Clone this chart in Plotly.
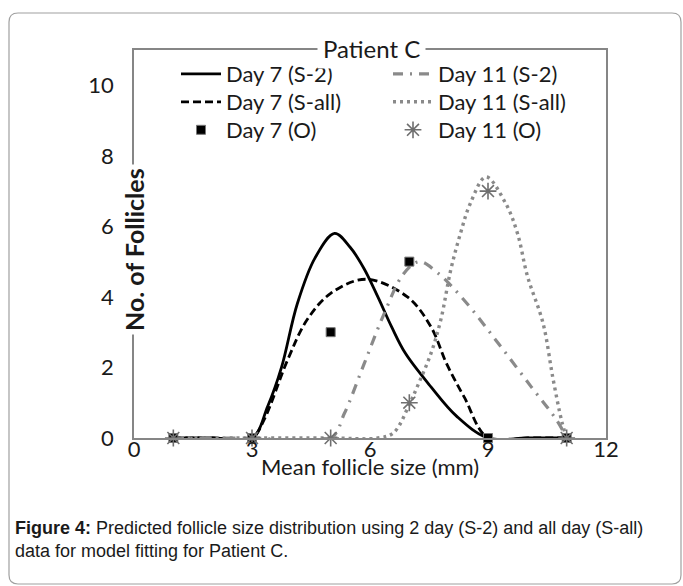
import plotly.graph_objects as go

# ---------------- data ----------------
obs_x = [1, 3, 5, 7, 9, 11]
day7_obs = [0, 0, 3, 5, 0, 0]
day11_obs = [0, 0, 0, 1, 7, 0]

d7_s2_x = [1, 2, 3, 3.4, 3.75, 4.15, 4.6, 5.1, 5.5, 5.85, 6.2, 6.55, 6.9, 7.55, 8.2, 9, 10, 11]
d7_s2_y = [0, 0, 0, 0.9, 2.0, 3.8, 5.1, 5.8, 5.4, 4.8, 4.0, 3.15, 2.4, 1.45, 0.62, 0, 0, 0]

d7_sall_x = [1, 2, 3, 3.3, 3.9, 4.4, 5.0, 5.9, 6.95, 7.55, 7.95, 8.4, 9, 10, 11]
d7_sall_y = [0, 0, 0, 0.5, 2.2, 3.35, 4.1, 4.5, 4.0, 3.15, 2.1, 1.15, 0, 0, 0]

d11_s2_x = [1, 3, 5, 5.35, 5.85, 6.35, 6.85, 7.25, 7.7, 8.4, 9.25, 10.1, 10.75, 11]
d11_s2_y = [0, 0, 0, 0.7, 2.1, 3.5, 4.65, 5.0, 4.7, 3.9, 2.7, 1.45, 0.5, 0]

d11_sall_x = [1, 3, 5, 6.2, 6.6, 7.0, 7.2, 7.55, 7.8, 8.05, 8.3, 8.55, 8.95, 9.45, 9.75, 10.0, 10.4, 10.65, 10.88, 11]
d11_sall_y = [0, 0, 0, 0, 0.15, 0.95, 1.45, 2.4, 3.35, 4.75, 5.8, 6.65, 7.4, 6.65, 5.8, 4.6, 3.25, 1.7, 0.45, 0]

x_ticks = [0, 3, 6, 9, 12]
y_ticks = [0, 2, 4, 6, 8, 10]

# ---------------- styling ----------------
FONT = "Lato"
GREY = "#868686"
CURVE_GREY = "#8a8a8a"
MARK_GREY = "#6f6f6f"
W, H = 683, 586
L, R, T, B = 134, 77, 50, 148
PW, PH = W - L - R, H - T - B


def px(xp):
    return (xp - L) / PW


def py(yp):
    return (H - B - yp) / PH


fig = go.Figure()

fig.add_trace(go.Scatter(x=d7_s2_x, y=d7_s2_y, mode="lines", name="Day 7 (S-2)",
                         line=dict(color="black", width=2.8, shape="spline", smoothing=1.0),
                         legend="legend"))
fig.add_trace(go.Scatter(x=d7_sall_x, y=d7_sall_y, mode="lines", name="Day 7 (S-all)",
                         line=dict(color="black", width=2.8, dash="8px,4px", shape="spline", smoothing=1.0),
                         legend="legend2"))
fig.add_trace(go.Scatter(x=d11_s2_x, y=d11_s2_y, mode="lines", name="Day 11 (S-2)",
                         line=dict(color=CURVE_GREY, width=3.2, dash="10px,7px,2px,7px", shape="spline", smoothing=1.0),
                         legend="legend4"))
fig.add_trace(go.Scatter(x=d11_sall_x, y=d11_sall_y, mode="lines", name="Day 11 (S-all)",
                         line=dict(color=CURVE_GREY, width=3.4, dash="3px,4px", shape="spline", smoothing=1.0),
                         legend="legend5"))
fig.add_trace(go.Scatter(x=obs_x, y=day7_obs, mode="markers", name="Day 7 (O)",
                         marker=dict(symbol="square", size=9, color="black",
                                     line=dict(color="#777777", width=1)),
                         legend="legend3", cliponaxis=False))
fig.add_trace(go.Scatter(x=obs_x, y=day11_obs, mode="markers", name="Day 11 (O)",
                         marker=dict(symbol="asterisk-open", size=14, color=MARK_GREY,
                                     line=dict(color=MARK_GREY, width=1.6)),
                         legend="legend6", cliponaxis=False))

axis_common = dict(showline=True, linecolor=GREY, linewidth=1.5, mirror=True,
                   showgrid=False, zeroline=False, ticks="",
                   tickfont=dict(family=FONT, size=22, color="#1a1a1a"))


def leg(xl, ytop):
    return dict(x=px(xl), y=py(ytop), xanchor="left", yanchor="top",
                bgcolor="rgba(0,0,0,0)", font=dict(family=FONT, size=22, color="#1a1a1a"),
                itemwidth=40)


fig.update_layout(
    width=W, height=H,
    margin=dict(l=L, r=R, t=T, b=B),
    paper_bgcolor="white", plot_bgcolor="white",
    font=dict(family=FONT, color="#1a1a1a"),
    xaxis=dict(range=[0, 12], tickvals=x_ticks, ticklabelstandoff=-9, **axis_common),
    yaxis=dict(range=[0, 11], tickvals=y_ticks, ticklabelstandoff=14, **axis_common),
    legend=leg(176, 53), legend2=leg(176, 81), legend3=leg(176, 109),
    legend4=leg(388, 53), legend5=leg(388, 81), legend6=leg(388, 109),
    showlegend=True,
)

annotations = [
    dict(text="Patient C", x=px(371), y=py(48), xref="paper", yref="paper",
         showarrow=False, font=dict(family=FONT, size=24, color="#1a1a1a"),
         bgcolor="white", borderpad=5, xanchor="center", yanchor="middle"),
    dict(text="<b>No. of Follicles</b>", x=0, y=py(250), xref="paper", yref="paper",
         showarrow=False, textangle=-90, font=dict(family=FONT, size=25, color="#1a1a1a"),
         bgcolor="white", borderpad=3, xanchor="center", yanchor="middle"),
    dict(text="Mean follicle size (mm)", x=px(370), y=py(466), xref="paper", yref="paper",
         showarrow=False, font=dict(family=FONT, size=22, color="#1a1a1a"),
         xanchor="center", yanchor="middle"),
    dict(text="<b>Figure 4:</b> Predicted follicle size distribution using 2 day (S-2) and all day (S-all)"
              "<br>data for model fitting for Patient C.",
         x=px(13), y=py(516), xref="paper", yref="paper", showarrow=False, align="left",
         font=dict(family="Liberation Sans", size=18, color="#1a1a1a"),
         xanchor="left", yanchor="top"),
]
fig.update_layout(annotations=annotations)

# outer rounded frame
x0, x1, y0, y1 = px(9), px(681), py(584), py(13)
rx, ry = 9 / PW, 9 / PH
path = (f"M {x0+rx},{y1} L {x1-rx},{y1} Q {x1},{y1} {x1},{y1-ry} "
        f"L {x1},{y0+ry} Q {x1},{y0} {x1-rx},{y0} L {x0+rx},{y0} Q {x0},{y0} {x0},{y0+ry} "
        f"L {x0},{y1-ry} Q {x0},{y1} {x0+rx},{y1} Z")
fig.add_shape(type="path", path=path, xref="paper", yref="paper",
              line=dict(color="#a0a0a0", width=1.2), layer="below")

fig.write_html("out.html")
